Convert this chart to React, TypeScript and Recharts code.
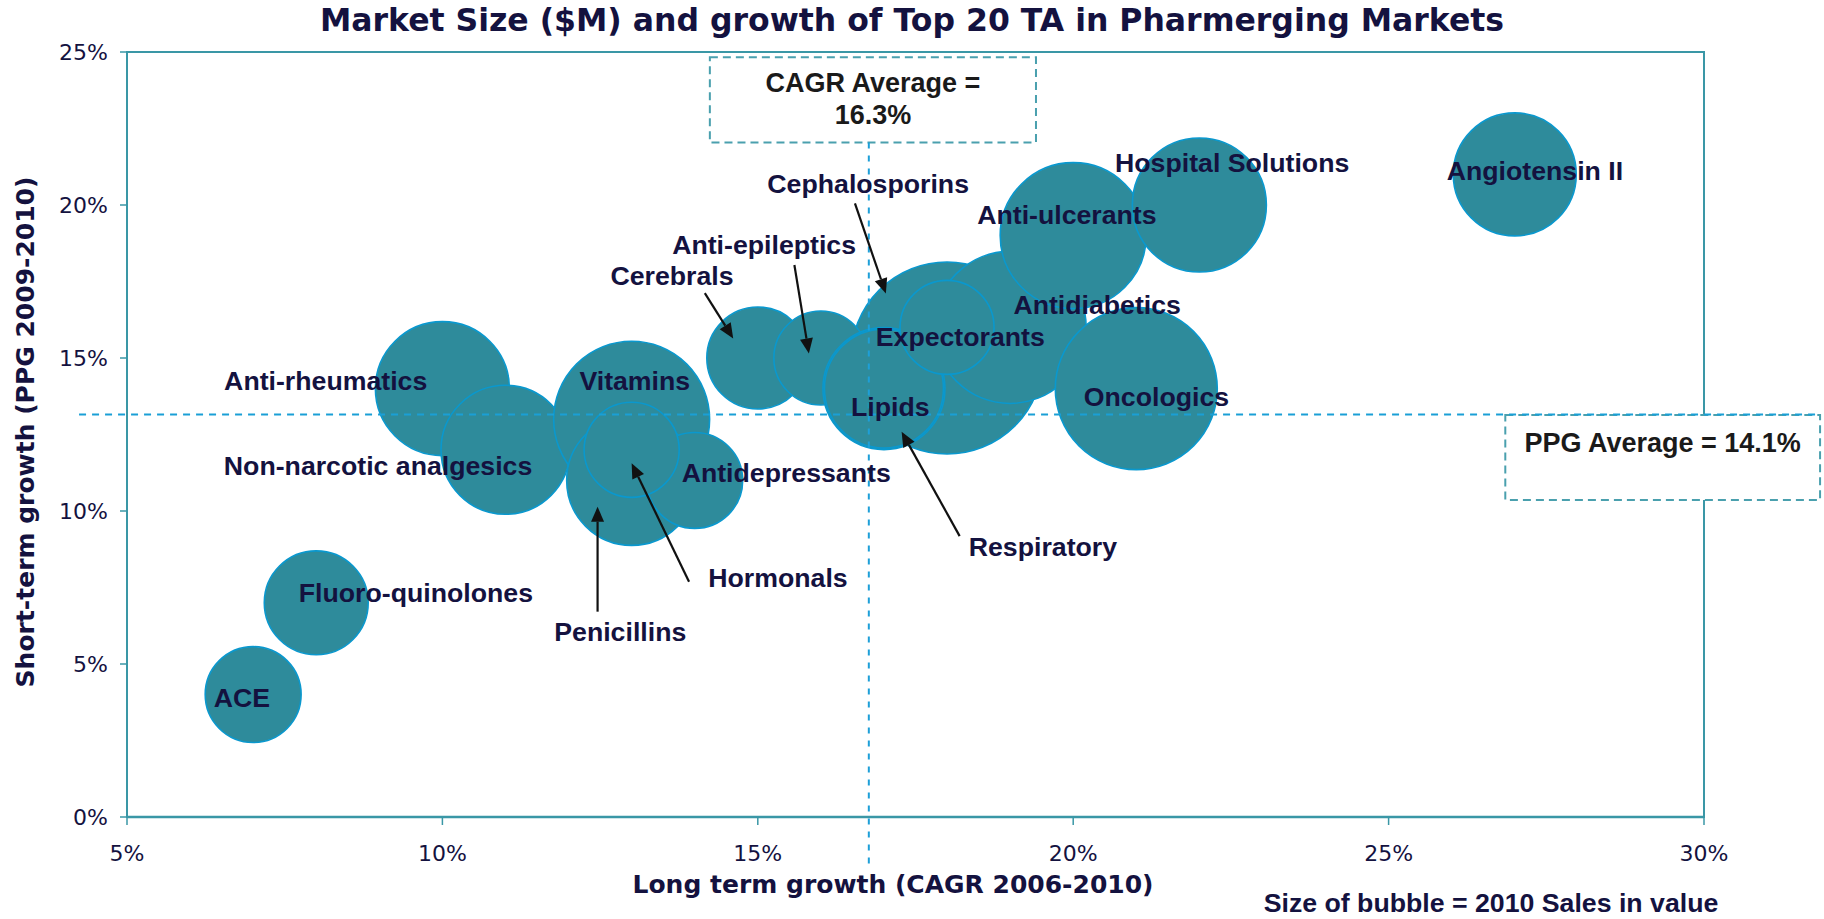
import { ScatterChart, Scatter, XAxis, YAxis, ZAxis, ReferenceLine, ReferenceArea } from 'recharts';

// Bubbles, in drawing order (later ones sit on top)
const taNames = [
    'ACE', 'Fluoro-quinolones', 'Anti-rheumatics', 'Non-narcotic analgesics', 'Vitamins',
    'Penicillins', 'Antidepressants', 'Hormonals', 'Cerebrals', 'Cephalosporins',
    'Anti-epileptics', 'Lipids', 'Respiratory', 'Antidiabetics', 'Expectorants',
    'Anti-ulcerants', 'Hospital Solutions', 'Oncologics', 'Angiotensin II',
];
const cagr = [7, 8, 10, 11, 13, 13, 14, 13, 15, 18, 16, 17, 17, 19, 18, 20, 22, 21, 27];
const ppg = [4, 7, 14, 12, 13, 11, 11, 12, 15, 15, 15, 14, 14, 16, 16, 19, 20, 14, 21];
const sales2010 = [230, 270, 449, 416, 608, 422, 230, 226, 260, 921, 221, 372, 354, 578, 221, 533, 449, 656, 378];

// Label anchor points (in axis units)
const labelNames = [
    'Angiotensin II', 'Hospital Solutions', 'Anti-ulcerants', 'Cephalosporins', 'Anti-epileptics',
    'Cerebrals', 'Antidiabetics', 'Expectorants', 'Lipids', 'Oncologics', 'Vitamins',
    'Anti-rheumatics', 'Non-narcotic analgesics', 'Antidepressants', 'Hormonals', 'Penicillins',
    'Fluoro-quinolones', 'ACE', 'Respiratory',
];
const labelX = [27.32, 22.52, 19.9, 16.75, 15.1, 13.64, 20.38, 18.21, 17.1, 21.32, 13.05, 8.15, 8.98, 15.45, 15.32, 12.82, 9.58, 6.82, 19.52];
const labelY = [21.11, 21.37, 19.67, 20.69, 18.69, 17.68, 16.73, 15.7, 13.41, 13.74, 14.25, 14.25, 11.47, 11.25, 7.81, 6.06, 7.32, 3.9, 8.82];

// Arrows: tail -> head
const arrowFrom = [[14.16, 17.12], [15.58, 18.04], [16.54, 20.05], [18.2, 9.18], [13.91, 7.69], [12.46, 6.71]];
const arrowTo = [[14.61, 15.64], [15.81, 15.15], [17.03, 17.11], [17.28, 12.59], [13.0, 11.56], [12.46, 10.14]];

const xTicks = [5, 10, 15, 20, 25, 30];
const yTicks = [0, 5, 10, 15, 20, 25];

const cagrAvgLineX = 16.76;
const ppgAvgLineY = 13.15;

const TEAL = '#3A97A6';
const NAVY = '#14123F';

const bubbles = taNames.map((name, i) => ({ name, x: cagr[i], y: ppg[i], z: sales2010[i] }));
const labels = labelNames.map((name, i) => ({ name, x: labelX[i], y: labelY[i] }));

const LabelText = (props: any) => (
    <text
        x={props.cx}
        y={props.cy}
        textAnchor="middle"
        dominantBaseline="central"
        fontFamily="'Liberation Sans', Arial, sans-serif"
        fontWeight="bold"
        fontSize={26.7}
        fill={NAVY}
    >
        {props.payload.name}
    </text>
);

const Arrow = (props: any) => {
    const { x1, y1, x2, y2 } = props;
    const dx = x2 - x1;
    const dy = y2 - y1;
    const len = Math.hypot(dx, dy) || 1;
    const ux = dx / len;
    const uy = dy / len;
    const hl = 15;
    const hw = 6.5;
    const bx = x2 - ux * hl;
    const by = y2 - uy * hl;
    return (
        <g>
            <line x1={x1} y1={y1} x2={bx} y2={by} stroke="#111" strokeWidth={2.2} />
            <polygon
                points={`${x2},${y2} ${bx - uy * hw},${by + ux * hw} ${bx + uy * hw},${by - ux * hw}`}
                fill="#111"
            />
        </g>
    );
};

const boxLabel = (lines: string[], firstOffset: number) => (props: any) => {
    const { x, y, width } = props.viewBox;
    return (
        <text
            textAnchor="middle"
            fontFamily="'Liberation Sans', Arial, sans-serif"
            fontWeight="bold"
            fontSize={27}
            fill="#1A1A1A"
        >
            {lines.map((l, i) => (
                <tspan key={i} x={x + width / 2} y={y + firstOffset + i * 32} dominantBaseline="central">
                    {l}
                </tspan>
            ))}
        </text>
    );
};

const pageText = (extra: any) => ({
    position: 'absolute' as const,
    whiteSpace: 'nowrap' as const,
    color: NAVY,
    fontWeight: 'bold',
    lineHeight: 1,
    ...extra,
});

export default function App() {
    return (
        <div style={{ position: 'absolute', left: 0, top: 0, width: 1824, height: 919, background: '#fff' }}>
            <ScatterChart width={1824} height={919} margin={{ top: 52, right: 120, left: 27, bottom: 42 }}>
                <XAxis
                    type="number"
                    dataKey="x"
                    domain={[5, 30]}
                    ticks={xTicks}
                    tickFormatter={(v) => `${v}%`}
                    height={60}
                    axisLine={{ stroke: TEAL, strokeWidth: 2.5 }}
                    tickLine={{ stroke: TEAL, strokeWidth: 1.5 }}
                    tickSize={8}
                    tickMargin={20}
                    tick={{ fill: NAVY, fontSize: 22, fontFamily: "'DejaVu Sans', Verdana, sans-serif" }}
                />
                <YAxis
                    type="number"
                    dataKey="y"
                    domain={[0, 25]}
                    ticks={yTicks}
                    tickFormatter={(v) => `${v}%`}
                    width={100}
                    axisLine={{ stroke: TEAL, strokeWidth: 2 }}
                    tickLine={{ stroke: TEAL, strokeWidth: 1.5 }}
                    tickSize={7}
                    tickMargin={12}
                    tick={{ fill: NAVY, fontSize: 22, fontFamily: "'DejaVu Sans', Verdana, sans-serif" }}
                />
                <ZAxis type="number" dataKey="z" domain={[0, 1000]} range={[0, Math.PI * 10000]} />

                {/* plot border (top / right) */}
                <ReferenceArea x1={5} x2={30} y1={0} y2={25} fill="none" stroke={TEAL} strokeWidth={2} fillOpacity={0} ifOverflow="visible" />

                <Scatter
                    data={bubbles}
                    fill="#2E8B9B"
                    stroke="#0A98CE"
                    strokeWidth={1.6}
                    fillOpacity={1}
                    isAnimationActive={false}
                    zIndex={600}
                />

                {/* averages */}
                <ReferenceLine
                    segment={[{ x: 4.24, y: ppgAvgLineY }, { x: 31.84, y: ppgAvgLineY }]}
                    ifOverflow="visible"
                    stroke="#1A9FD6"
                    strokeWidth={2}
                    strokeDasharray="7 6"
                    zIndex={700}
                />
                <ReferenceLine
                    segment={[{ x: cagrAvgLineX, y: 22.04 }, { x: cagrAvgLineX, y: -1.63 }]}
                    ifOverflow="visible"
                    stroke="#1E9FD8"
                    strokeWidth={2}
                    strokeDasharray="6 7"
                    zIndex={700}
                />

                <ReferenceArea
                    x1={14.24}
                    x2={19.41}
                    y1={22.04}
                    y2={24.83}
                    ifOverflow="visible"
                    fill="#fff"
                    fillOpacity={1}
                    stroke="#4AA0AE"
                    strokeWidth={2}
                    strokeDasharray="8 5"
                    label={boxLabel(['CAGR Average =', '16.3%'], 26)}
                />
                <ReferenceArea
                    x1={26.85}
                    x2={31.84}
                    y1={10.36}
                    y2={13.14}
                    ifOverflow="visible"
                    fill="#fff"
                    fillOpacity={1}
                    stroke="#4AA0AE"
                    strokeWidth={2}
                    strokeDasharray="8 5"
                    label={boxLabel(['PPG Average = 14.1%'], 28)}
                />

                <Scatter data={labels} shape={LabelText} isAnimationActive={false} zIndex={750} />

                {arrowFrom.map((f, i) => (
                    <ReferenceLine
                        key={`arrow-${i}`}
                        segment={[{ x: f[0], y: f[1] }, { x: arrowTo[i][0], y: arrowTo[i][1] }]}
                        ifOverflow="visible"
                        zIndex={800}
                        shape={(p: any) => <Arrow {...p} />}
                    />
                ))}
            </ScatterChart>

            <div style={pageText({ left: 912, top: 21, transform: 'translate(-50%, -50%)', fontSize: 31.5, fontFamily: "'DejaVu Sans', Verdana, sans-serif" })}>
                Market Size ($M) and growth of Top 20 TA in Pharmerging Markets
            </div>
            <div style={pageText({ left: 25, top: 432, transform: 'translate(-50%, -50%) rotate(-90deg)', fontSize: 25, fontFamily: "'DejaVu Sans', Verdana, sans-serif" })}>
                Short-term growth (PPG 2009-2010)
            </div>
            <div style={pageText({ left: 893, top: 884, transform: 'translate(-50%, -50%)', fontSize: 25, fontFamily: "'DejaVu Sans', Verdana, sans-serif" })}>
                Long term growth (CAGR 2006-2010)
            </div>
            <div style={pageText({ left: 1491, top: 903, transform: 'translate(-50%, -50%)', fontSize: 26.7, fontFamily: "'Liberation Sans', Arial, sans-serif" })}>
                Size of bubble = 2010 Sales in value
            </div>
        </div>
    );
}
